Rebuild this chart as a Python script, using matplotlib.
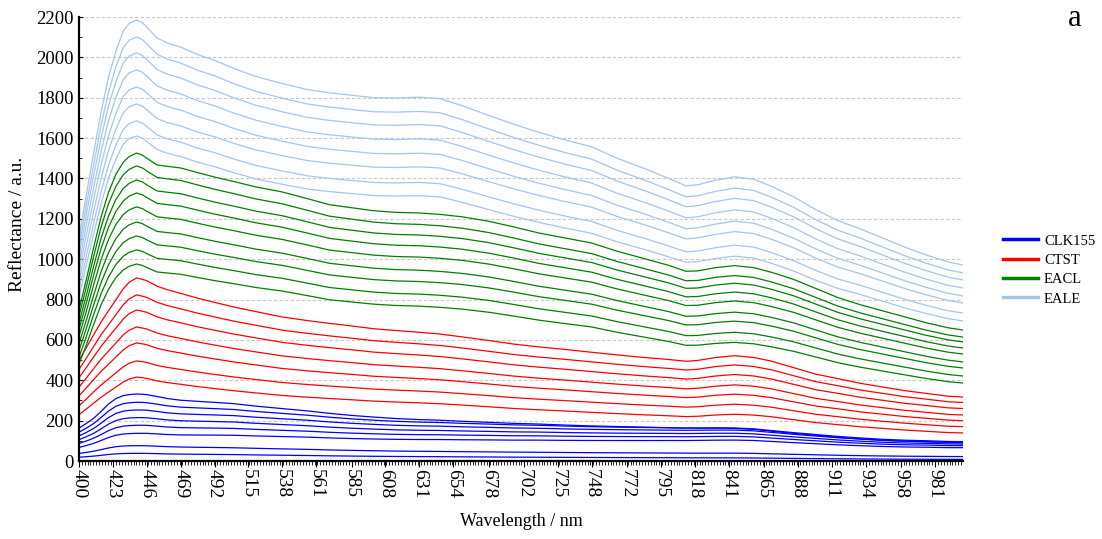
import numpy as np
import matplotlib
matplotlib.use("Agg")
import matplotlib.pyplot as plt
from matplotlib.ticker import FixedLocator, MultipleLocator
from matplotlib.lines import Line2D

plt.rcParams['font.family'] = ['Liberation Serif', 'DejaVu Serif']

# ---------------- data ----------------
wl_key = [400, 405, 410, 415, 420, 425, 430, 434, 439, 443, 446, 453, 460, 469, 480, 492,
          505, 520, 538, 555, 570, 585, 600, 615, 631, 645, 660, 678, 695, 712,
          730, 748, 765, 785, 800, 812, 820, 832, 845, 858, 870, 885, 900, 915,
          930, 945, 960, 975, 990, 1000]

# top curve of each group (shape), reflectance a.u.
eale_top = [1100, 1320, 1530, 1730, 1900, 2030, 2130, 2168, 2185, 2172, 2150, 2096, 2071, 2051,
            2015, 1985, 1945, 1905, 1870, 1840, 1824, 1812, 1800, 1798, 1802, 1795,
            1760, 1712, 1668, 1628, 1590, 1556, 1500, 1445, 1400, 1362, 1368, 1390,
            1407, 1395, 1360, 1308, 1245, 1190, 1150, 1105, 1060, 1020, 985, 970]
eacl_top = [750, 900, 1060, 1210, 1330, 1420, 1480, 1508, 1526, 1516, 1500, 1467, 1460, 1452,
            1430, 1407, 1385, 1358, 1333, 1300, 1270, 1255, 1240, 1232, 1229, 1222,
            1210, 1188, 1160, 1130, 1105, 1080, 1040, 1000, 970, 940, 942, 958,
            968, 958, 935, 900, 855, 810, 775, 745, 715, 685, 660, 649]
ctst_top = [500, 562, 626, 689, 744, 798, 853, 885, 907, 900, 893, 866, 848, 830, 807, 785,
            762, 739, 712, 694, 680, 667, 653, 644, 635, 626, 612, 594, 576, 562,
            549, 535, 522, 508, 499, 490, 494, 508, 517, 508, 490, 458, 426, 404,
            381, 363, 345, 331, 317, 313]
clk155_top = [163, 186, 212, 246, 282, 309, 324, 329, 332, 331, 329, 320, 310, 302, 297, 292,
              286, 274, 262, 251, 239, 229, 221, 214, 209, 206, 201, 196, 191, 188,
              183, 179, 176, 173, 171, 169, 169, 169, 168, 163, 154, 143, 133, 123,
              115, 108, 103, 100, 96, 95]

# per-curve values at the 439 nm peak and at 1000 nm
eale_peaks = [2185, 2101, 2022, 1938, 1853, 1769, 1685, 1610]
eale_ends = [971, 932, 897, 857, 818, 783, 733, 694]
eacl_peaks = [1526, 1462, 1392, 1328, 1259, 1184, 1115, 1046, 976]
eacl_ends = [649, 614, 590, 560, 530, 491, 461, 421, 386]
ctst_peaks = [907, 823, 748, 664, 585, 496, 416]
ctst_ends = [317, 290, 260, 228, 200, 170, 139]
clk155_peaks = [332, 291, 253, 215, 177, 137, 76, 38]
clk155_ends = [90, 96, 92, 84, 76, 66, 22, 8]

group_names = ['CLK155', 'CTST', 'EACL', 'EALE']
group_colors = ['#0000FF', '#FF0000', '#008000', '#A4C6EE']

x_tick_labels = [400, 423, 446, 469, 492, 515, 538, 561, 585, 608, 631, 654, 678,
                 702, 725, 748, 772, 795, 818, 841, 865, 888, 911, 934, 958, 981]
y_ticks = list(range(0, 2201, 200))

# ---------------- figure ----------------
W, H = 1102, 539
fig = plt.figure(figsize=(W / 100, H / 100), dpi=100)
L, R, T, B = 79, 963, 17, 461
ax = fig.add_axes([L / W, 1 - B / H, (R - L) / W, (B - T) / H])

wl = np.array(wl_key, dtype=float)
w = np.clip((wl - 439.0) / (1000.0 - 439.0), 0, 1)

groups = [
    (clk155_top, clk155_peaks, clk155_ends),
    (ctst_top, ctst_peaks, ctst_ends),
    (eacl_top, eacl_peaks, eacl_ends),
    (eale_top, eale_peaks, eale_ends),
]

for (top, peaks, ends), col in zip(groups, group_colors):
    top = np.array(top, dtype=float)
    for pk, en in zip(peaks, ends):
        sp = pk / top.max()
        se = en / top[-1]
        scale = sp + (se - sp) * w
        ax.plot(wl, top * scale, color=col, lw=0.9, solid_joinstyle='round')

ax.set_xlim(400, 1000)
ax.set_ylim(0, 2200)

ax.xaxis.set_major_locator(FixedLocator(x_tick_labels))
ax.set_xticklabels([str(v) for v in x_tick_labels], rotation=270, fontsize=14)
ax.xaxis.set_minor_locator(FixedLocator(np.arange(400, 1000.1, 1.95)))
ax.tick_params(axis='x', which='major', direction='out', length=4, width=0.8, pad=2)
ax.tick_params(axis='x', which='minor', direction='out', length=3, width=0.6)

ax.yaxis.set_major_locator(FixedLocator(y_ticks))
ax.yaxis.set_minor_locator(MultipleLocator(100))
ax.tick_params(axis='y', which='major', direction='in', length=3, width=0.8,
               labelsize=13.5, pad=4)
ax.tick_params(axis='y', which='minor', direction='in', length=2, width=0.6)

for s in ['top', 'right']:
    ax.spines[s].set_visible(False)
for s in ['left', 'bottom']:
    ax.spines[s].set_linewidth(1.6)
    ax.spines[s].set_color('black')

for yv in y_ticks[1:]:
    ax.axhline(yv, color='#C8C8C8', lw=0.8, ls=(0, (3, 2)), zorder=0)

fig.text(18 / W, 1 - 224 / H, 'Reflectance / a.u.', rotation=90, ha='center',
         va='center', fontsize=14)
fig.text((L + R) / 2 / W, 1 - 522 / H, 'Wavelength / nm', ha='center', va='center',
         fontsize=13)
fig.text(1075 / W, 1 - 18 / H, 'a', ha='center', va='center', fontsize=22)

handles = [Line2D([0], [0], color=c, lw=2.5) for c in group_colors]
fig.legend(handles, group_names, loc='center left',
           bbox_to_anchor=(993 / W, 1 - 270 / H), frameon=False, fontsize=10.5,
           handlelength=2.4, handletextpad=0.4, labelspacing=0.42, borderpad=0.2)

fig.savefig('out.png', dpi=100)
